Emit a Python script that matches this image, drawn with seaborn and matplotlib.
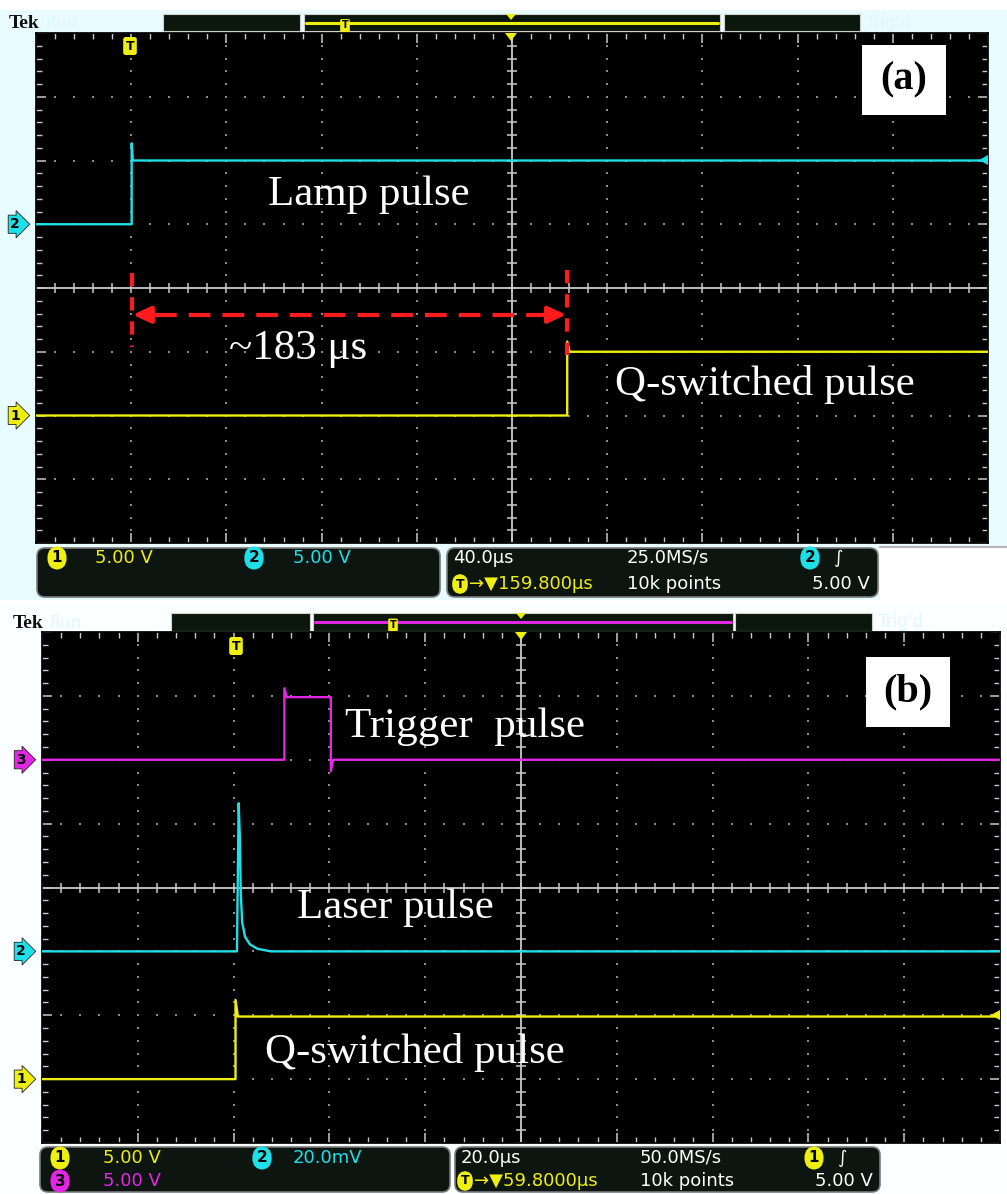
import matplotlib

matplotlib.use("Agg")

import matplotlib.pyplot as plt
import numpy as np
import pandas as pd
import seaborn as sns
from matplotlib.patches import FancyBboxPatch, Polygon, Rectangle

FIG_W, FIG_H = 1007, 1194
OUT_PATH = "out.png"

# ---- scope settings read off the screens ----
# panel (a): 40 us/div, trigger -> center delay 159.8 us
A_US_PER_DIV = 40.0
A_CENTER_US = 159.8
# panel (b): 20 us/div, trigger -> center delay 59.8 us
B_US_PER_DIV = 20.0
B_CENTER_US = 59.8

# channel scale (units/div) and ground position (div from center)
A_CH2_SCALE, A_CH2_POS = 5.0, 1.0      # lamp, V
A_CH1_SCALE, A_CH1_POS = 5.0, -2.0     # Q-switch, V
B_CH3_SCALE, B_CH3_POS = 5.0, 2.0      # trigger, V
B_CH2_SCALE, B_CH2_POS = 20.0, -1.0    # laser, mV
B_CH1_SCALE, B_CH1_POS = 5.0, -3.0     # Q-switch, V

# ---- traces: time in us (0 = trigger) ----
lamp_t = [-40.2, 0.0, 0.0, 0.5, 359.8]
lamp_v = [0.0, 0.0, 6.35, 5.0, 5.0]

qsw_a_t = [-40.2, 183.0, 183.0, 184.0, 359.8]
qsw_a_v = [0.0, 0.0, 5.8, 5.0, 5.0]

trig_t = [-40.2, 10.4, 10.4, 10.9, 20.1, 20.1, 20.6, 159.8]
trig_v = [0.0, 0.0, 5.6, 4.9, 4.9, -0.9, 0.0, 0.0]

laser_t = [-40.2, 0.5, 0.86, 1.1, 1.3, 1.6, 2.2, 3.2, 4.8, 7.6, 159.8]
laser_mv = [0.0, 0.0, 46.4, 36.0, 18.0, 9.0, 4.5, 2.2, 0.8, 0.0, 0.0]

qsw_b_t = [-40.2, 0.2, 0.2, 0.7, 159.8]
qsw_b_v = [0.0, 0.0, 6.2, 4.9, 4.9]

DELAY_US = 183.0

# ---- colours / fonts ----
YELLOW = "#eeee10"
CYAN = "#1ee0e8"
MAGENTA = "#e326e3"
RED = "#ff1c1c"
GRID = "#8a8a8a"
CROSS = "#c9c9c9"
BOX_BG = "#0c1510"
SERIF = ["Liberation Serif", "DejaVu Serif"]
STATUS_FONT = ["Liberation Sans Narrow", "DejaVu Sans"]


def px_axes(fig, x0, y0, x1, y1, zorder=1):
    return fig.add_axes(
        [x0 / FIG_W, 1 - y1 / FIG_H, (x1 - x0) / FIG_W, (y1 - y0) / FIG_H],
        zorder=zorder,
    )


def to_div(values, scale, pos):
    return np.asarray(values, dtype=float) / scale + pos


def draw_graticule(ax, us_per_div, center):
    left = center - 5 * us_per_div
    ax.set_xlim(left, left + 10 * us_per_div)
    ax.set_ylim(-4, 4)
    ax.set_facecolor("black")
    for sp in ax.spines.values():
        sp.set_color("black")

    sub_x = np.arange(-25, 26) / 5
    sub_y = np.arange(-20, 21) / 5
    for k in range(-4, 5):
        if k == 0:
            continue
        ax.scatter(np.full(sub_y.size, center + k * us_per_div), sub_y,
                   s=3, c=GRID, marker="s", lw=0, zorder=1)
    for k in range(-3, 4):
        if k == 0:
            continue
        ax.scatter(center + sub_x * us_per_div, np.full(sub_x.size, k),
                   s=3, c=GRID, marker="s", lw=0, zorder=1)

    ax.axvline(center, color=CROSS, lw=1.3, zorder=1)
    ax.axhline(0, color=CROSS, lw=1.3, zorder=1)
    ax.plot(center + sub_x * us_per_div, np.zeros(sub_x.size), ls="none",
            marker="|", ms=7, mew=1.1, color=CROSS, zorder=1)
    ax.plot(np.full(sub_y.size, center), sub_y, ls="none",
            marker="_", ms=7, mew=1.1, color=CROSS, zorder=1)

    ax.set_xticks(center + np.arange(-5, 6) * us_per_div)
    ax.set_xticks(center + sub_x * us_per_div, minor=True)
    ax.set_yticks(np.arange(-4, 5))
    ax.set_yticks(sub_y, minor=True)
    ax.tick_params(which="both", direction="in", top=True, right=True,
                   bottom=True, left=True, color=CROSS,
                   labelbottom=False, labelleft=False)
    ax.tick_params(which="major", length=7, width=1.1)
    ax.tick_params(which="minor", length=4, width=1.0)
    ax.set_xlabel("")
    ax.set_ylabel("")


def draw_traces(ax, traces):
    frames = []
    for name, t, div in traces:
        frames.append(pd.DataFrame({"t": t, "div": div, "channel": name}))
    df = pd.concat(frames, ignore_index=True)
    palette = {"ch1": YELLOW, "ch2": CYAN, "ch3": MAGENTA}
    sns.lineplot(data=df, x="t", y="div", hue="channel", palette=palette,
                 sort=False, estimator=None, legend=False, lw=1.7, ax=ax,
                 zorder=3)
    ax.set_xlabel("")
    ax.set_ylabel("")


def channel_marker(ax, label, pos, color):
    ax.annotate(label, xy=(0, pos), xycoords=("axes fraction", "data"),
                xytext=(-15, 0), textcoords="offset points", ha="center",
                va="center", fontsize=10, weight="bold", color="black",
                family="DejaVu Sans", annotation_clip=False,
                bbox=dict(boxstyle="rarrow,pad=0.15", fc=color, ec="#222222",
                          lw=0.6))


def badge(ax, x, y, s, fc, size=11):
    ax.text(x, y, s, ha="center", va="center", fontsize=size, color="black",
            family="DejaVu Sans", weight="bold",
            bbox=dict(boxstyle="round,pad=0.28,rounding_size=0.75", fc=fc,
                      ec="none"))


def status(ax, x, y, s, color, size=13):
    ax.text(x, y, s, ha="left", va="center", fontsize=size, color=color,
            family=STATUS_FONT)


def header(ax, y0, y1, tek_x, boxes, line_color, t_x, tri_x):
    ax.text(tek_x, (y0 + y1) / 2 + 1, "Tek", ha="left", va="center",
            fontsize=14, weight="bold", family=SERIF, color="#111111")
    ax.text(tek_x + 36, (y0 + y1) / 2 + 1, "Run", ha="left", va="center",
            fontsize=12, color="#e0f7fb")
    for x0, x1 in boxes:
        ax.add_patch(Rectangle((x0, y0), x1 - x0, y1 - y0, fc="#0b170b",
                               ec="#cfcfcf", lw=0.8))
    ax.text(boxes[2][1] + 6, (y0 + y1) / 2, "Trig'd", ha="left", va="center",
            fontsize=12, color="#e0f7fb")
    mid = boxes[1]
    ym = (y0 + y1) / 2
    ax.plot([mid[0] + 2, mid[1] - 2], [ym, ym], color=line_color, lw=2.2)
    ax.text(t_x, ym + 3, "T", ha="center", va="center", fontsize=7,
            weight="bold", color="black",
            bbox=dict(boxstyle="round,pad=0.15", fc=YELLOW, ec="none"))
    ax.add_patch(Polygon([(tri_x - 5, y0), (tri_x + 5, y0), (tri_x, y0 + 6)],
                         closed=True, fc=YELLOW, ec="none"))


def status_box(ax, x0, y0, x1, y1):
    ax.add_patch(FancyBboxPatch((x0, y0), x1 - x0, y1 - y0,
                                boxstyle="round,pad=0,rounding_size=8",
                                fc=BOX_BG, ec="#7a7a7a", lw=1.2))


def main() -> None:
    sns.set_theme(style="white")
    plt.rcParams["font.family"] = ["DejaVu Sans"]

    fig = plt.figure(figsize=(FIG_W / 100, FIG_H / 100), dpi=100)
    fig.patch.set_facecolor("white")

    back = px_axes(fig, 0, 0, FIG_W, FIG_H, zorder=0)
    back.set_xlim(0, FIG_W)
    back.set_ylim(FIG_H, 0)
    back.axis("off")
    back.add_patch(Rectangle((0, 10), FIG_W, 590, fc="#e8fbff", ec="none"))
    back.add_patch(Rectangle((880, 547), 127, 55, fc="white", ec="none"))
    back.plot([880, FIG_W], [547, 547], color="#b5b5b5", lw=1.5)
    back.add_patch(Rectangle((0, 603), FIG_W, 591, fc="#fbffff", ec="none"))

    header(back, 14, 31, 9, [(163, 300), (304, 720), (724, 860)], YELLOW, 345, 511)
    header(back, 613, 631, 13, [(171, 310), (313, 733), (735, 872)], MAGENTA, 393, 521)

    # ---------- panel (a) ----------
    ax_a = px_axes(fig, 36, 33, 988, 543, zorder=1)
    draw_graticule(ax_a, A_US_PER_DIV, A_CENTER_US)
    draw_traces(ax_a, [
        ("ch2", lamp_t, to_div(lamp_v, A_CH2_SCALE, A_CH2_POS)),
        ("ch1", qsw_a_t, to_div(qsw_a_v, A_CH1_SCALE, A_CH1_POS)),
    ])
    channel_marker(ax_a, "2", A_CH2_POS, CYAN)
    channel_marker(ax_a, "1", A_CH1_POS, YELLOW)

    # delay annotation
    y_arrow = -0.42
    ax_a.plot([0, 0], [0.24, -0.93], color=RED, lw=3, dashes=(3.2, 2.6), zorder=4)
    ax_a.plot([DELAY_US, DELAY_US], [0.28, -1.05], color=RED, lw=3,
              dashes=(3.2, 2.6), zorder=4)
    ax_a.plot([10, DELAY_US - 10], [y_arrow, y_arrow], color=RED, lw=3,
              dashes=(5.2, 2.9), zorder=4)
    for tip, tail in [(0.5, 10.0), (DELAY_US - 0.5, DELAY_US - 10.0)]:
        ax_a.annotate("", xy=(tip, y_arrow), xytext=(tail, y_arrow),
                      arrowprops=dict(arrowstyle="-|>,head_length=0.9,head_width=0.42",
                                      color=RED, lw=3, shrinkA=0, shrinkB=0),
                      zorder=5)

    # ---------- panel (b) ----------
    ax_b = px_axes(fig, 42, 632, 1000, 1143, zorder=1)
    draw_graticule(ax_b, B_US_PER_DIV, B_CENTER_US)
    draw_traces(ax_b, [
        ("ch3", trig_t, to_div(trig_v, B_CH3_SCALE, B_CH3_POS)),
        ("ch2", laser_t, to_div(laser_mv, B_CH2_SCALE, B_CH2_POS)),
        ("ch1", qsw_b_t, to_div(qsw_b_v, B_CH1_SCALE, B_CH1_POS)),
    ])
    channel_marker(ax_b, "3", B_CH3_POS, MAGENTA)
    channel_marker(ax_b, "2", B_CH2_POS, CYAN)
    channel_marker(ax_b, "1", B_CH1_POS, YELLOW)

    # ---------- front overlay ----------
    front = px_axes(fig, 0, 0, FIG_W, FIG_H, zorder=5)
    front.set_xlim(0, FIG_W)
    front.set_ylim(FIG_H, 0)
    front.axis("off")
    front.patch.set_alpha(0)

    # trigger markers on the screens
    for x, y in [(130, 46), (236, 646)]:
        front.text(x, y, "T", ha="center", va="center", fontsize=9,
                   weight="bold", color="black",
                   bbox=dict(boxstyle="round,pad=0.2", fc=YELLOW, ec="none"))
    for cx, top in [(511, 33), (521, 632)]:
        front.add_patch(Polygon([(cx - 6, top), (cx + 6, top), (cx, top + 8)],
                                closed=True, fc=YELLOW, ec="none"))
    front.add_patch(Polygon([(979, 160), (988, 155), (988, 165)], closed=True,
                            fc=CYAN, ec="none"))
    front.add_patch(Polygon([(991, 1015), (1000, 1010), (1000, 1020)], closed=True,
                            fc=YELLOW, ec="none"))

    # panel tags
    for (x0, y0, x1, y1), tag in [((862, 45, 946, 115), "(a)"),
                                  ((866, 657, 950, 727), "(b)")]:
        front.add_patch(Rectangle((x0, y0), x1 - x0, y1 - y0, fc="white", ec="none"))
        front.text((x0 + x1) / 2, (y0 + y1) / 2, tag, ha="center", va="center",
                   fontsize=29, weight="bold", family=SERIF, color="black")

    # waveform labels
    for x, y, s in [(369, 195, "Lamp pulse"), (298, 349, "~183 μs"),
                    (765, 385, "Q-switched pulse"), (465, 727, "Trigger  pulse"),
                    (395, 908, "Laser pulse"), (415, 1052, "Q-switched pulse")]:
        front.text(x, y, s, ha="center", va="center", fontsize=31,
                   family=SERIF, color="white")

    # status bars (a)
    status_box(front, 37, 548, 440, 597)
    status_box(front, 447, 548, 878, 597)
    badge(front, 57, 558, "1", YELLOW)
    status(front, 95, 558, "5.00 V", YELLOW)
    badge(front, 254, 558, "2", CYAN)
    status(front, 293, 558, "5.00 V", CYAN)
    status(front, 453, 558, "40.0µs", "white")
    status(front, 627, 558, "25.0MS/s", "white")
    badge(front, 810, 558, "2", CYAN)
    status(front, 833, 558, "∫", "white")
    badge(front, 460, 584, "T", YELLOW, size=9)
    status(front, 469, 584, "→▼159.800µs", YELLOW)
    status(front, 627, 584, "10k points", "white")
    status(front, 812, 584, "5.00 V", "white")

    # status bars (b)
    status_box(front, 40, 1147, 450, 1192)
    status_box(front, 455, 1147, 880, 1192)
    badge(front, 60, 1158, "1", YELLOW)
    status(front, 103, 1158, "5.00 V", YELLOW)
    badge(front, 60, 1181, "3", MAGENTA)
    status(front, 103, 1181, "5.00 V", MAGENTA)
    badge(front, 262, 1158, "2", CYAN)
    status(front, 293, 1158, "20.0mV", CYAN)
    status(front, 461, 1158, "20.0µs", "white")
    status(front, 640, 1158, "50.0MS/s", "white")
    badge(front, 814, 1158, "1", YELLOW)
    status(front, 837, 1158, "∫", "white")
    badge(front, 465, 1181, "T", YELLOW, size=9)
    status(front, 474, 1181, "→▼59.8000µs", YELLOW)
    status(front, 640, 1181, "10k points", "white")
    status(front, 815, 1181, "5.00 V", "white")

    fig.savefig(OUT_PATH, dpi=100, facecolor=fig.get_facecolor())
    plt.close(fig)


if __name__ == "__main__":
    main()
